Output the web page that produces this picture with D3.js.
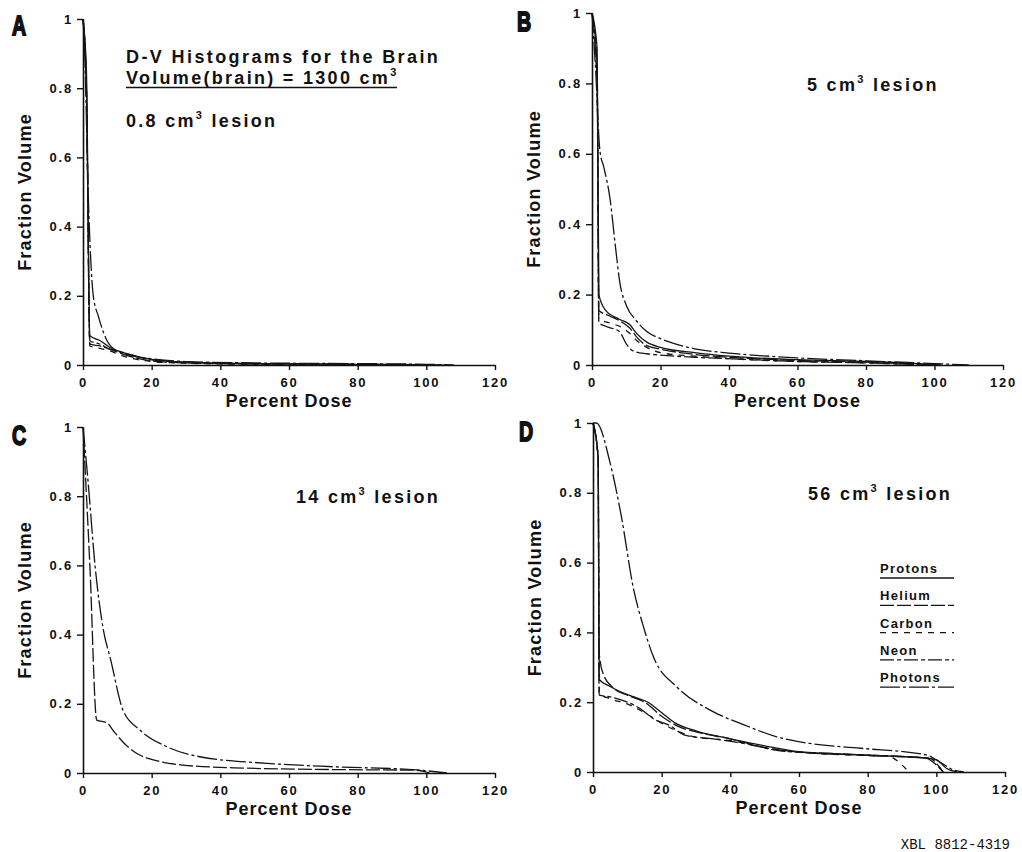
<!DOCTYPE html>
<html>
<head>
<meta charset="utf-8">
<script src="https://cdn.jsdelivr.net/npm/d3@7"></script>
<style>
  body { margin: 0; background: #fff; }
</style>
</head>
<body>
<script>
// axis ticks
const xTicks = [0, 20, 40, 60, 80, 100, 120];
const yTicks = [0, 0.2, 0.4, 0.6, 0.8, 1];
const seriesNames = ["Protons", "Helium", "Carbon", "Neon", "Photons"];
const lesions = ["0.8", "5", "14", "56"];

// [percent dose, fraction volume]
const panelA = {
  Protons: [[0,1],[1,0.85],[2,0.085],[5,0.07],[8,0.05],[12,0.035],[20,0.016],[30,0.008],[40,0.005],[60,0.003],[80,0.002],[100,0.001],[105,0]],
  Helium:  [[0,1],[1,0.8],[2,0.06],[5,0.055],[8,0.045],[12,0.03],[20,0.012],[30,0.006],[50,0.003],[80,0.002],[100,0]],
  Carbon:  [[0,1],[1,0.8],[2,0.055],[5,0.048],[8,0.04],[12,0.025],[20,0.01],[30,0.005],[50,0.002],[90,0]],
  Neon:    [[0,1],[1,0.8],[2,0.07],[5,0.06],[8,0.045],[12,0.035],[20,0.015],[30,0.008],[50,0.004],[80,0.002],[100,0]],
  Photons: [[0,1],[0.5,0.9],[1.5,0.5],[3,0.2],[4.5,0.14],[7,0.07],[10,0.04],[15,0.025],[20,0.018],[30,0.01],[50,0.006],[80,0.004],[100,0.002],[108,0]]
};

const panelB = {
  Protons: [[0,1],[1.5,0.9],[2,0.2],[4,0.155],[8,0.13],[11,0.115],[13,0.09],[16,0.065],[20,0.05],[30,0.035],[40,0.025],[60,0.015],[80,0.01],[95,0.004],[102,0]],
  Helium:  [[0,1],[1.5,0.85],[2,0.155],[5,0.14],[9,0.12],[11,0.105],[13,0.08],[16,0.055],[20,0.045],[30,0.03],[40,0.022],[60,0.013],[80,0.008],[100,0]],
  Carbon:  [[0,1],[1.5,0.8],[2,0.13],[5,0.12],[9,0.105],[11,0.09],[13,0.07],[16,0.05],[20,0.035],[30,0.025],[40,0.018],[60,0.01],[80,0.006],[98,0]],
  Neon:    [[0,1],[1.5,0.8],[2,0.12],[4,0.11],[8,0.095],[10,0.06],[12,0.04],[16,0.032],[20,0.028],[30,0.022],[40,0.018],[60,0.01],[80,0.006],[100,0]],
  Photons: [[0,1],[1,0.85],[2.3,0.61],[3.5,0.56],[5.3,0.47],[6.8,0.34],[8.2,0.23],[10,0.17],[13,0.125],[16,0.095],[20,0.075],[25,0.058],[30,0.046],[40,0.034],[50,0.026],[60,0.02],[80,0.012],[100,0.004],[110,0]]
};

const panelC = {
  Helium:  [[0,1],[2,0.6],[4,0.153],[7,0.145],[9,0.12],[12.5,0.081],[16.5,0.052],[20.5,0.038],[29,0.023],[44,0.015],[73,0.01],[97,0.008],[101,0]],
  Photons: [[0,1],[1.5,0.84],[3.5,0.6],[6,0.41],[8,0.33],[11.7,0.18],[16.6,0.124],[24.4,0.076],[34,0.047],[53.5,0.028],[73,0.018],[97,0.009],[106,0]]
};

const panelD = {
  Protons: [[0,1],[1.5,0.9],[1.8,0.265],[5,0.245],[8,0.23],[12,0.215],[16,0.2],[20,0.17],[24,0.14],[30,0.118],[40,0.095],[50,0.075],[60,0.058],[80,0.048],[97,0.04],[100,0.035],[103,0.01],[106,0]],
  Helium:  [[0,1],[1.5,0.9],[1.8,0.34],[3,0.28],[6,0.24],[10,0.22],[15,0.2],[20,0.16],[25,0.13],[30,0.115],[40,0.095],[50,0.07],[60,0.057],[80,0.048],[97,0.04],[100,0.02],[102,0]],
  Carbon:  [[0,1],[1.5,0.9],[1.8,0.225],[5,0.21],[10,0.195],[15,0.17],[20,0.14],[25,0.115],[30,0.1],[40,0.09],[50,0.07],[60,0.057],[80,0.047],[86,0.045],[90,0.02],[92,0]],
  Neon:    [[0,1],[1.5,0.9],[1.8,0.22],[5,0.215],[10,0.2],[14,0.18],[18,0.15],[22,0.135],[27,0.105],[35,0.095],[45,0.08],[55,0.06],[70,0.053],[85,0.046],[98,0.04],[100,0.025],[102,0]],
  Photons: [[0,1],[1,1],[5,0.885],[8.3,0.73],[11.7,0.53],[14.7,0.416],[17.6,0.33],[24.4,0.244],[34,0.178],[44,0.135],[53.5,0.101],[63,0.082],[78,0.068],[97,0.049],[100,0.035],[105,0.006],[108,0]]
};

// line styles per series
const dashes = { Protons: null, Helium: "14,3", Carbon: "6,6", Neon: "14,3,4,3", Photons: "20,3,3,3" };

// layout of the four panels (plot box in page pixels)
const panels = [
  { id: "A", data: panelA, l: 83,  t: 19,  r: 495,  b: 365, lx: 12,  ly: 35,  tx: 126, ty: 127 },
  { id: "B", data: panelB, l: 592, t: 13,  r: 1003, b: 365, lx: 517, ly: 31,  tx: 807, ty: 91 },
  { id: "C", data: panelC, l: 83,  t: 427, r: 495,  b: 773, lx: 12,  ly: 445, tx: 296, ty: 503 },
  { id: "D", data: panelD, l: 593, t: 423, r: 1005, b: 772, lx: 519, ly: 441, tx: 808, ty: 500 }
];

const svg = d3.select("body").append("svg")
    .attr("width", 1022)
    .attr("height", 852)
    .attr("font-family", "Liberation Sans, Arial, sans-serif")
    .attr("font-weight", "bold")
    .attr("fill", "#111");

panels.forEach((p, i) => {
  const x = d3.scaleLinear().domain([0, 120]).range([p.l, p.r]);
  const y = d3.scaleLinear().domain([0, 1]).range([p.b, p.t]);
  const g = svg.append("g");

  const line = d3.line()
      .x(d => x(d[0]))
      .y(d => y(d[1]))
      .curve(d3.curveMonotoneX);

  seriesNames.filter(n => p.data[n]).forEach(n => {
    g.append("path")
        .attr("d", line(p.data[n]))
        .attr("fill", "none")
        .attr("stroke", "#151515")
        .attr("stroke-width", 1.3)
        .attr("stroke-dasharray", dashes[n]);
  });

  // axes
  const xa = g.append("g")
      .attr("transform", "translate(0," + p.b + ")")
      .call(d3.axisBottom(x).tickValues(xTicks).tickSize(5).tickSizeOuter(0).tickPadding(8));
  const ya = g.append("g")
      .attr("transform", "translate(" + p.l + ",0)")
      .call(d3.axisLeft(y).tickValues(yTicks).tickSize(6).tickSizeOuter(0).tickPadding(4)
        .tickFormat(d => (d === 0 || d === 1) ? String(d) : d.toFixed(1)));
  [xa, ya].forEach(a => {
    a.attr("font-family", null).attr("font-size", null);
    a.selectAll(".domain").attr("stroke", "#111").attr("stroke-width", 1.6);
    a.selectAll(".tick line").attr("stroke", "#111").attr("stroke-width", 1.4);
    a.selectAll("text").attr("font-size", 13).attr("letter-spacing", 1.8).attr("fill", "#111");
  });

  // axis titles
  g.append("text")
      .attr("x", (p.l + p.r) / 2)
      .attr("y", p.b + 42)
      .attr("text-anchor", "middle")
      .attr("font-size", 18)
      .attr("letter-spacing", 1)
      .text("Percent Dose");
  g.append("text")
      .attr("transform", "translate(" + (p.l - 52) + "," + ((p.t + p.b) / 2) + ") rotate(-90)")
      .attr("text-anchor", "middle")
      .attr("font-size", 18)
      .attr("letter-spacing", 1.2)
      .text("Fraction Volume");

  // panel letter, squeezed to look like the heavy condensed original
  g.append("text")
      .attr("transform", "translate(" + p.lx + "," + p.ly + ") scale(0.7,1)")
      .attr("font-size", 28)
      .attr("stroke", "#111")
      .attr("stroke-width", 1.8)
      .text(p.id);

  // lesion size
  const lt = g.append("text")
      .attr("x", p.tx)
      .attr("y", p.ty)
      .attr("font-size", 18)
      .attr("letter-spacing", 2.3);
  lt.append("tspan").text(lesions[i] + " cm");
  lt.append("tspan").attr("font-size", 11).attr("dy", -8).text("3");
  lt.append("tspan").attr("dy", 8).text(" lesion");
});

// heading in panel A
svg.append("text")
    .attr("x", 126).attr("y", 63)
    .attr("font-size", 18).attr("letter-spacing", 2.4)
    .text("D-V Histograms for the Brain");
const vt = svg.append("text")
    .attr("x", 126).attr("y", 84)
    .attr("font-size", 18).attr("letter-spacing", 2.3);
vt.append("tspan").text("Volume(brain) = 1300 cm");
vt.append("tspan").attr("font-size", 11).attr("dy", -8).text("3");
svg.append("line")
    .attr("x1", 126).attr("x2", 397)
    .attr("y1", 87.5).attr("y2", 87.5)
    .attr("stroke", "#111").attr("stroke-width", 1.5);

// legend in panel D
const leg = svg.append("g");
seriesNames.forEach((n, i) => {
  const yy = 573 + i * 27.3;
  leg.append("text")
      .attr("x", 880).attr("y", yy)
      .attr("font-size", 13).attr("letter-spacing", 1.3)
      .text(n);
  leg.append("line")
      .attr("x1", 880).attr("x2", 954)
      .attr("y1", yy + 5).attr("y2", yy + 5)
      .attr("stroke", "#151515").attr("stroke-width", 1.3)
      .attr("stroke-dasharray", dashes[n]);
});

// figure id
svg.append("text")
    .attr("x", 1010).attr("y", 849)
    .attr("text-anchor", "end")
    .attr("font-family", "Liberation Mono, Courier New, monospace")
    .attr("font-weight", "normal")
    .attr("font-size", 14)
    .text("XBL 8812-4319");
</script>
</body>
</html>
